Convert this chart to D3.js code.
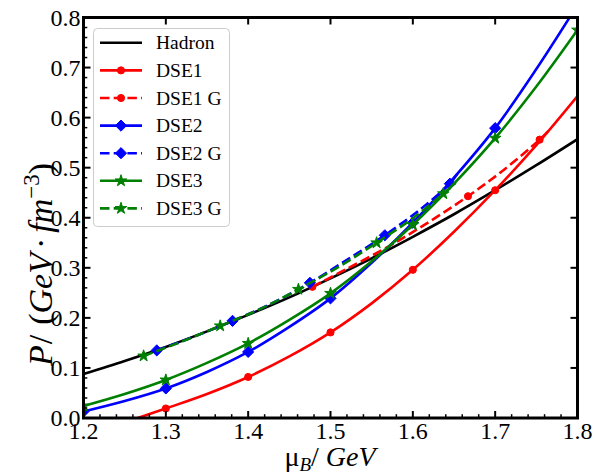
<!DOCTYPE html>
<html>
<head>
<meta charset="utf-8">
<script src="https://cdn.jsdelivr.net/npm/d3@7"></script>
<style>
  body { margin: 0; background: #fff; }
  svg { display: block; }
</style>
</head>
<body>
<svg id="chart" width="595" height="474" font-family="'Liberation Serif', 'DejaVu Serif', serif"></svg>
<script>
// Pressure vs baryon chemical potential: hadron gas and three DSE quark-matter models
const hadronMu = [1.20, 1.25, 1.30, 1.35, 1.40, 1.45, 1.50, 1.55, 1.60, 1.65, 1.70, 1.75, 1.80];
const hadronP  = [0.088, 0.114, 0.142, 0.173, 0.206, 0.241, 0.279, 0.319, 0.362, 0.407, 0.455, 0.505, 0.557];

const dse1Mu = [1.266, 1.30, 1.35, 1.40, 1.45, 1.50, 1.55, 1.60, 1.65, 1.70, 1.75, 1.80];
const dse1P  = [0.000, 0.019, 0.048, 0.082, 0.123, 0.171, 0.229, 0.296, 0.372, 0.455, 0.545, 0.643];
const dse1Marks = [1.30, 1.40, 1.50, 1.60, 1.70];

const dse1gMu = [1.478, 1.52, 1.572, 1.62, 1.667, 1.71, 1.754, 1.765];
const dse1gP  = [0.262, 0.298, 0.344, 0.392, 0.443, 0.495, 0.556, 0.574];
const dse1gMarks = [1.478, 1.667, 1.754];

const dse2Mu = [1.20, 1.25, 1.30, 1.35, 1.40, 1.45, 1.50, 1.55, 1.60, 1.65, 1.70, 1.75, 1.80];
const dse2P  = [0.013, 0.034, 0.059, 0.092, 0.132, 0.182, 0.239, 0.310, 0.390, 0.480, 0.579, 0.697, 0.825];
const dse2Marks = [1.20, 1.30, 1.40, 1.50, 1.60, 1.70, 1.80];

const dse2gMu = [1.289, 1.335, 1.381, 1.43, 1.475, 1.52, 1.566, 1.61, 1.645, 1.655];
const dse2gP  = [0.135, 0.163, 0.194, 0.230, 0.270, 0.316, 0.365, 0.418, 0.468, 0.490];
const dse2gMarks = [1.289, 1.381, 1.475, 1.566, 1.645];

const dse3Mu = [1.20, 1.25, 1.30, 1.35, 1.40, 1.45, 1.50, 1.55, 1.60, 1.65, 1.70, 1.75, 1.80];
const dse3P  = [0.024, 0.048, 0.076, 0.110, 0.149, 0.196, 0.249, 0.313, 0.386, 0.468, 0.559, 0.662, 0.775];
const dse3Marks = [1.20, 1.30, 1.40, 1.50, 1.60, 1.70, 1.80];

const dse3gMu = [1.273, 1.32, 1.366, 1.415, 1.461, 1.51, 1.556, 1.60, 1.637, 1.652];
const dse3gP  = [0.124, 0.153, 0.184, 0.218, 0.257, 0.302, 0.350, 0.399, 0.448, 0.470];
const dse3gMarks = [1.273, 1.366, 1.461, 1.556, 1.637];

const xTicks = [1.2, 1.3, 1.4, 1.5, 1.6, 1.7, 1.8];
const yTicks = [0.0, 0.1, 0.2, 0.3, 0.4, 0.5, 0.6, 0.7, 0.8];

const series = [
  { name: "Hadron",  mu: hadronMu, p: hadronP, marks: [],         color: "#000000", dashed: false, marker: null },
  { name: "DSE1",    mu: dse1Mu,   p: dse1P,   marks: dse1Marks,  color: "#ff0000", dashed: false, marker: "circle" },
  { name: "DSE1 G",  mu: dse1gMu,  p: dse1gP,  marks: dse1gMarks, color: "#ff0000", dashed: true,  marker: "circle" },
  { name: "DSE2",    mu: dse2Mu,   p: dse2P,   marks: dse2Marks,  color: "#0000ff", dashed: false, marker: "diamond" },
  { name: "DSE2 G",  mu: dse2gMu,  p: dse2gP,  marks: dse2gMarks, color: "#0000ff", dashed: true,  marker: "diamond" },
  { name: "DSE3",    mu: dse3Mu,   p: dse3P,   marks: dse3Marks,  color: "#008000", dashed: false, marker: "star" },
  { name: "DSE3 G",  mu: dse3gMu,  p: dse3gP,  marks: dse3gMarks, color: "#008000", dashed: true,  marker: "star" }
];

const SERIF = "'Liberation Serif', 'DejaVu Serif', serif";
const svg = d3.select("#chart");
const plot = { left: 83.5, right: 577.5, top: 17.5, bottom: 418 };

const x = d3.scaleLinear().domain([1.2, 1.8]).range([plot.left, plot.right]);
const y = d3.scaleLinear().domain([0, 0.8]).range([plot.bottom, plot.top]);

svg.append("defs").append("clipPath").attr("id", "plotClip")
  .append("rect")
  .attr("x", plot.left).attr("y", plot.top)
  .attr("width", plot.right - plot.left).attr("height", plot.bottom - plot.top);

const markerPath = {
  circle: d3.symbol().type(d3.symbolCircle).size(40)(),
  diamond: "M0,-5.6L5.6,0L0,5.6L-5.6,0Z",
  star: d3.symbol().type(d3.symbolStar).size(42)()
};

const line = d3.line()
  .x(d => x(d[0]))
  .y(d => y(d[1]))
  .curve(d3.curveCatmullRom.alpha(0.5));

const lw = 2.6;
const dash = "9.5,4.2";

const gData = svg.append("g").attr("clip-path", "url(#plotClip)");

series.forEach(s => {
  const pts = s.mu.map((m, i) => [m, s.p[i]]);
  gData.append("path")
    .datum(pts)
    .attr("d", line)
    .attr("fill", "none")
    .attr("stroke", s.color)
    .attr("stroke-width", lw)
    .attr("stroke-dasharray", s.dashed ? dash : null);
  if (s.marker) {
    const markPts = s.marks.map(m => pts.find(p => Math.abs(p[0] - m) < 1e-9));
    gData.selectAll(null)
      .data(markPts)
      .enter().append("path")
      .attr("d", markerPath[s.marker])
      .attr("transform", d => `translate(${x(d[0])},${y(d[1])})`)
      .attr("fill", s.color)
      .attr("stroke", s.color)
      .attr("stroke-width", 1);
  }
});

// Axes: inward ticks, minor ticks on bottom and left only
const axes = svg.append("g");
const xMinor = d3.range(1.2, 1.8001, 0.02).filter(v => !xTicks.some(t => Math.abs(t - v) < 1e-6));
const yMinor = d3.range(0, 0.8001, 0.02).filter(v => !yTicks.some(t => Math.abs(t - v) < 1e-6));

const majLen = 7, minLen = 3.8;

axes.selectAll(null).data(xTicks).enter().append("line")
  .attr("x1", d => x(d)).attr("x2", d => x(d))
  .attr("y1", plot.bottom).attr("y2", plot.bottom - majLen)
  .attr("stroke", "#000").attr("stroke-width", 2);
axes.selectAll(null).data(xMinor).enter().append("line")
  .attr("x1", d => x(d)).attr("x2", d => x(d))
  .attr("y1", plot.bottom).attr("y2", plot.bottom - minLen)
  .attr("stroke", "#000").attr("stroke-width", 1.5);
axes.selectAll(null).data(xTicks).enter().append("line")
  .attr("x1", d => x(d)).attr("x2", d => x(d))
  .attr("y1", plot.top).attr("y2", plot.top + majLen)
  .attr("stroke", "#000").attr("stroke-width", 2);
axes.selectAll(null).data(yTicks).enter().append("line")
  .attr("x1", plot.left).attr("x2", plot.left + majLen)
  .attr("y1", d => y(d)).attr("y2", d => y(d))
  .attr("stroke", "#000").attr("stroke-width", 2);
axes.selectAll(null).data(yMinor).enter().append("line")
  .attr("x1", plot.left).attr("x2", plot.left + minLen)
  .attr("y1", d => y(d)).attr("y2", d => y(d))
  .attr("stroke", "#000").attr("stroke-width", 1.5);
axes.selectAll(null).data(yTicks).enter().append("line")
  .attr("x1", plot.right).attr("x2", plot.right - majLen)
  .attr("y1", d => y(d)).attr("y2", d => y(d))
  .attr("stroke", "#000").attr("stroke-width", 2);

axes.append("rect")
  .attr("x", plot.left).attr("y", plot.top)
  .attr("width", plot.right - plot.left).attr("height", plot.bottom - plot.top)
  .attr("fill", "none").attr("stroke", "#000").attr("stroke-width", 3);

// tick labels
const fmt = d3.format(".1f");
axes.selectAll(null).data(xTicks).enter().append("text")
  .attr("x", d => x(d)).attr("y", plot.bottom + 21)
  .attr("text-anchor", "middle")
  .attr("font-family", SERIF).attr("font-size", 24)
  .text(fmt);
axes.selectAll(null).data(yTicks).enter().append("text")
  .attr("x", plot.left - 3).attr("y", d => y(d) + 8)
  .attr("text-anchor", "end")
  .attr("font-family", SERIF).attr("font-size", 24)
  .text(fmt);

// x-axis title: mu_B / GeV
const xt = svg.append("text")
  .attr("x", 330).attr("y", 466)
  .attr("text-anchor", "middle")
  .attr("font-family", SERIF).attr("font-size", 28);
xt.append("tspan").text("μ");
xt.append("tspan").attr("dy", 5).attr("font-size", 19).attr("font-style", "italic").text("B");
xt.append("tspan").attr("dy", -5).text("/ ");
xt.append("tspan").attr("font-style", "italic").text("GeV");

// y-axis title: P / (GeV · fm^-3), laid out from the bottom upward
const yt = svg.append("text")
  .attr("transform", "translate(52,366) rotate(-90)")
  .attr("text-anchor", "start")
  .attr("font-family", SERIF).attr("font-size", 34);
yt.append("tspan").attr("font-style", "italic").text("P");
yt.append("tspan").attr("dx", 1).text("/");
yt.append("tspan").attr("dx", 10).text("(");
yt.append("tspan").attr("font-style", "italic").text("GeV");
yt.append("tspan").attr("dx", 4).text("·");
yt.append("tspan").attr("dx", 5).attr("font-style", "italic").text("fm");
yt.append("tspan").attr("dy", -13).attr("font-size", 23).text("−3");
yt.append("tspan").attr("dy", 13).text(")");

// legend
const leg = svg.append("g");
leg.append("rect")
  .attr("x", 93.5).attr("y", 28.5).attr("width", 136).attr("height", 198)
  .attr("rx", 4).attr("ry", 4)
  .attr("fill", "#fff").attr("fill-opacity", 0.8)
  .attr("stroke", "#cccccc").attr("stroke-width", 1);

series.forEach((s, i) => {
  const cy = 42.8 + i * 27.6;
  const row = leg.append("g");
  row.append("line")
    .attr("x1", 100).attr("x2", 142)
    .attr("y1", cy).attr("y2", cy)
    .attr("stroke", s.color).attr("stroke-width", lw)
    .attr("stroke-dasharray", s.dashed ? dash : null);
  if (s.marker) {
    row.append("path")
      .attr("d", markerPath[s.marker])
      .attr("transform", `translate(121,${cy})`)
      .attr("fill", s.color).attr("stroke", s.color).attr("stroke-width", 1);
  }
  row.append("text")
    .attr("x", 156).attr("y", cy + 6.5)
    .attr("font-family", SERIF).attr("font-size", 19.5)
    .text(s.name);
});
</script>
</body>
</html>
